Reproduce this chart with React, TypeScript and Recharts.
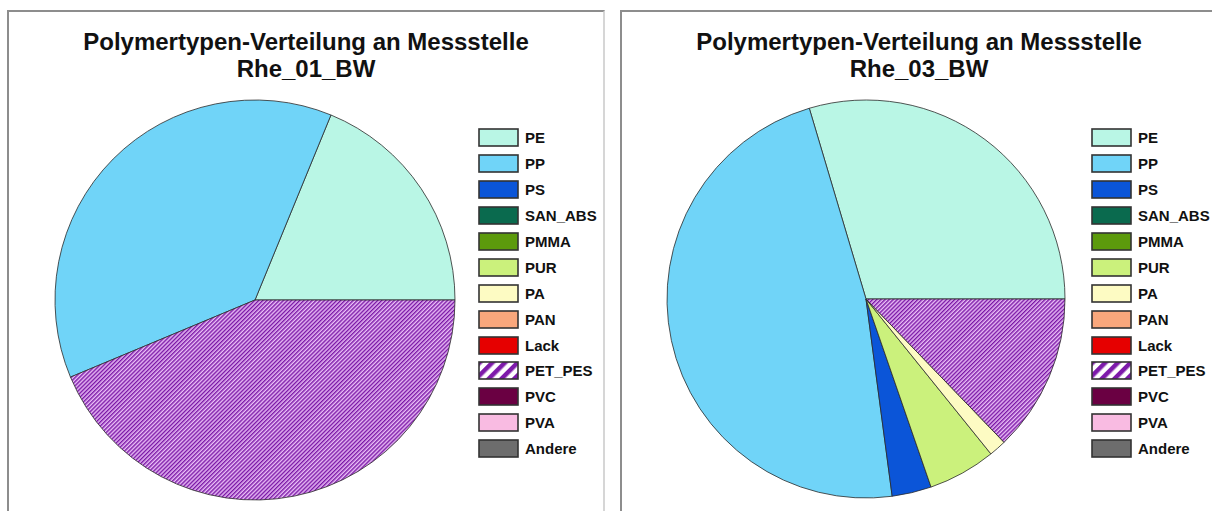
import React from 'react';
import { PieChart, Pie, Cell, Legend } from 'recharts';

// polymer categories (legend order)
const categories = ['PE', 'PP', 'PS', 'SAN_ABS', 'PMMA', 'PUR', 'PA', 'PAN', 'Lack', 'PET_PES', 'PVC', 'PVA', 'Andere'];
const colors = ['#b9f6e5', '#70d4f8', '#0b55d8', '#0a6a4e', '#5c9a0c', '#cbf17c', '#fdfbc3', '#f9a77c', '#e60000', 'hatch', '#6a0042', '#f9bbe2', '#6d6d6d'];

// share in % per site
const rhe01 = [18.8, 37.5, 0, 0, 0, 0, 0, 0, 0, 43.7, 0, 0, 0];
const rhe03 = [29.6, 47.5, 3.2, 0, 0, 5.5, 1.4, 0, 0, 12.8, 0, 0, 0];

const titleLine = 'Polymertypen-Verteilung an Messstelle';
const sites = ['Rhe_01_BW', 'Rhe_03_BW'];

const font = '"Liberation Sans", Arial, sans-serif';

const fillFor = (c: string, id: string) => (c === 'hatch' ? `url(#${id})` : c);

const LegendBox: React.FC<{ color: string; id: string }> = ({ color, id }) => (
  <svg width={41} height={19} style={{ display: 'block' }}>
    <defs>
      <pattern id={id} patternUnits="userSpaceOnUse" width={9} height={9} patternTransform="rotate(45)">
        <rect width={9} height={9} fill="#ffffff" />
        <rect width={4.5} height={9} fill="#7d1aaa" />
      </pattern>
    </defs>
    <rect x={1} y={1} width={39} height={17} fill={fillFor(color, id)} stroke="#333" strokeWidth={1.6} />
  </svg>
);

const PolymerLegend = ({ pid }: { pid: string }) => (
  <div style={{ fontFamily: font, fontWeight: 'bold', fontSize: 15, color: '#111' }}>
    {categories.map((c, i) => (
      <div key={c} style={{ display: 'flex', alignItems: 'center', height: 25.9 }}>
        <LegendBox color={colors[i]} id={`${pid}-lg`} />
        <span style={{ marginLeft: 6 }}>{c}</span>
      </div>
    ))}
  </div>
);

interface PanelProps {
  site: string;
  values: number[];
  left: number;
  cx: number;
  cy: number;
  r: number;
  pid: string;
}

const Panel: React.FC<PanelProps> = ({ site, values, left, cx, cy, r, pid }) => {
  const data = categories
    .map((name, i) => ({ name, value: values[i], color: colors[i] }))
    .filter((d) => d.value > 0);
  return (
    <div
      style={{
        position: 'absolute',
        left,
        top: 10,
        width: 594,
        height: 520,
        border: '2px solid #8d8d8d',
        borderRight: '2px solid #d6d6d6',
        background: '#fff',
      }}
    >
      <div
        style={{
          position: 'absolute',
          left: 0,
          top: 16,
          width: 594,
          textAlign: 'center',
          fontFamily: font,
          fontWeight: 'bold',
          fontSize: 24,
          lineHeight: '27px',
          color: '#111',
        }}
      >
        <div>{titleLine}</div>
        <div>{site}</div>
      </div>
      <PieChart width={594} height={500} style={{ position: 'absolute', left: 0, top: 0 }}>
        <defs>
          <pattern id={pid} patternUnits="userSpaceOnUse" width={2.9} height={2.9} patternTransform="rotate(45)">
            <rect width={2.9} height={2.9} fill="#e9bdf6" />
            <rect width={1.4} height={2.9} fill="#7a16a6" />
          </pattern>
        </defs>
        <Pie
          data={data}
          dataKey="value"
          nameKey="name"
          cx={cx}
          cy={cy}
          outerRadius={r}
          startAngle={0}
          endAngle={360}
          stroke="#2a2a2a"
          strokeWidth={0.8}
          isAnimationActive={false}
          label={false}
          labelLine={false}
        >
          {data.map((d) => (
            <Cell key={d.name} fill={fillFor(d.color, pid)} />
          ))}
        </Pie>
        <Legend
          layout="vertical"
          verticalAlign="top"
          align="right"
          wrapperStyle={{ left: 469, top: 113, width: 125, right: 'auto' }}
          content={() => <PolymerLegend pid={pid} />}
        />
      </PieChart>
    </div>
  );
};

export default function App() {
  return (
    <>
      <style>{'body{margin:0}'}</style>
      <div style={{ position: 'relative', width: 1212, height: 511, overflow: 'hidden', background: '#fff' }}>
        <Panel site={sites[0]} values={rhe01} left={7} cx={241} cy={283} r={200} pid="hatchA" />
        <Panel site={sites[1]} values={rhe03} left={620} cx={239} cy={282} r={199} pid="hatchB" />
      </div>
    </>
  );
}
